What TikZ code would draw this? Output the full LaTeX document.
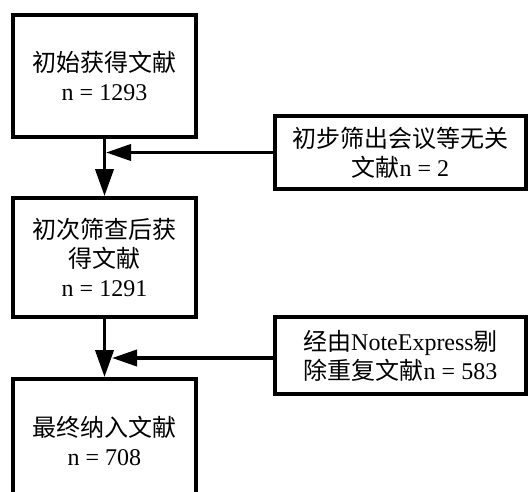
\documentclass[tikz,border=0pt]{standalone}
\usepackage{fontspec}
\setmainfont{Liberation Serif}
\newfontfamily\cjk{Noto Sans CJK SC}
\usetikzlibrary{arrows.meta}
\begin{document}
\begin{tikzpicture}[x=1pt,y=-1pt,
  box/.style={draw=black,line width=3.8pt,fill=white,align=center,inner sep=0pt,
    font=\fontsize{24}{29}\selectfont},
  flow/.style={line width=3.8pt,-{Triangle[length=27pt,width=18pt]}},
  side/.style={line width=3.8pt,-{Triangle[length=25pt,width=16pt]}}]
\clip (0,0) rectangle (528,492);
\fill[white] (0,0) rectangle (528,492);
\node[box,minimum width=183pt,minimum height=122pt] (b1) at (104.5,76) {{\cjk 初始获得文献}\\n = 1293};
\node[box,minimum width=183pt,minimum height=119pt] (b2) at (104.5,257.5) {{\cjk 初次筛查后获}\\{\cjk 得文献}\\n = 1291};
\node[box,minimum width=183pt,minimum height=124pt] (b3) at (104.5,441) {{\cjk 最终纳入文献}\\n = 708};
\node[box,minimum width=251pt,minimum height=73pt] (r1) at (400.5,152.5) {{\cjk 初步筛出会议等无关}\\{\cjk 文献}n = 2};
\node[box,minimum width=251pt,minimum height=77pt] (r2) at (400.5,355.5) {{\cjk 经由}NoteExpress{\cjk 剔}\\{\cjk 除重复文献}n = 583};
\coordinate (m1) at (106,152.5);
\coordinate (m2) at (112,358);
\draw[flow] (b1.south) -- (b2.north);
\draw[flow] (b2.south) -- (b3.north);
\draw[side] (r1.west) -- (m1);
\draw[side] (r2.west |- m2) -- (m2);
\end{tikzpicture}
\end{document}
